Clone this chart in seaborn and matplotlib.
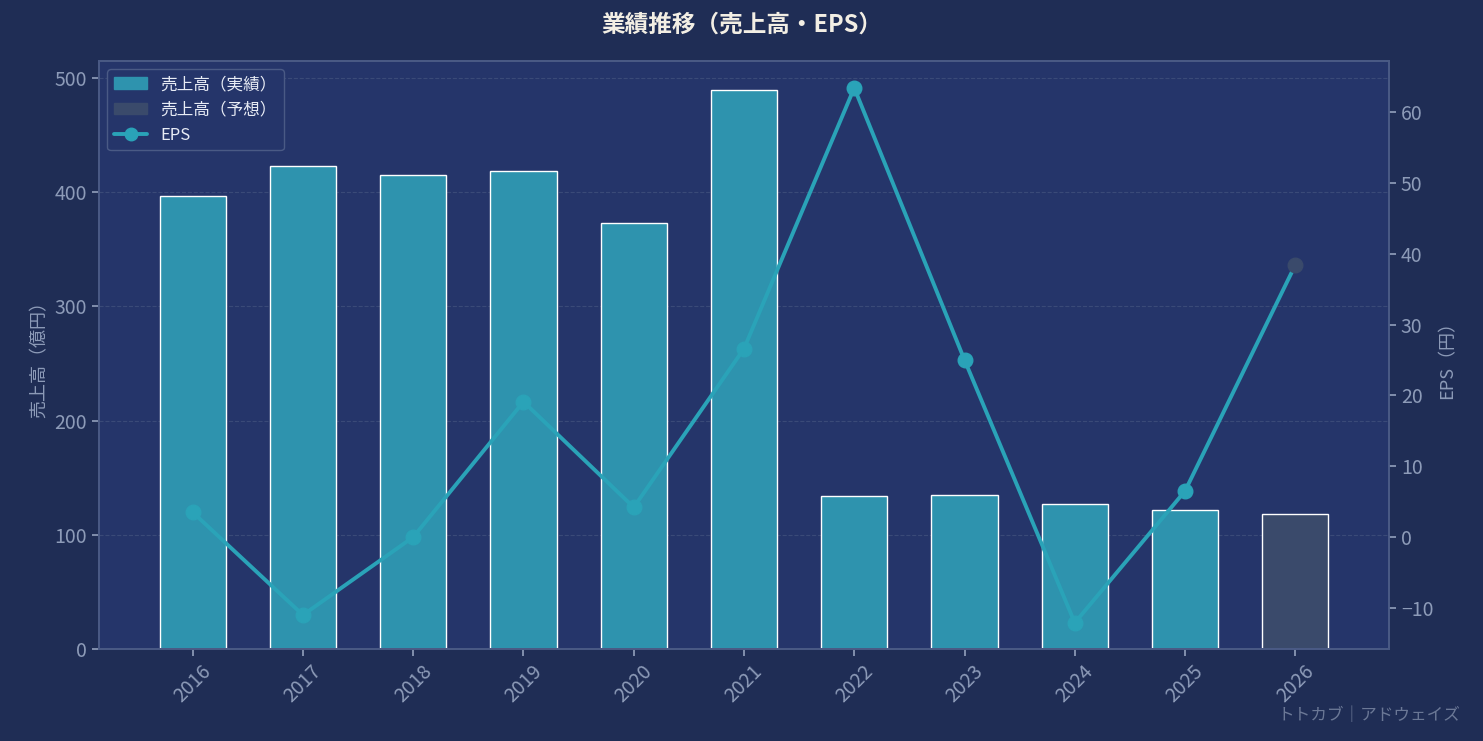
import matplotlib
matplotlib.use("Agg")
import matplotlib.pyplot as plt
import seaborn as sns
import pandas as pd
from matplotlib.patches import Patch
from matplotlib.lines import Line2D

years = ["2016","2017","2018","2019","2020","2021","2022","2023","2024","2025","2026"]
sales = [397, 423, 415, 419, 373, 490, 134, 135, 127, 122, 118]
eps = [3.5, -11.0, 0.0, 19.1, 4.2, 26.6, 63.4, 25.0, -12.1, 6.5, 38.4]
kind = ["実績"]*10 + ["予想"]

sns.set_theme(style="dark")
plt.rcParams['font.family'] = ['Noto Sans CJK JP', 'DejaVu Sans']

FIG = "#1f2d55"; AX = "#25356a"; BAR = "#2e93ae"; FC = "#3a4a6b"; LINE = "#2aa3b8"; TXT = "#8d9bb8"

fig = plt.figure(figsize=(14.83, 7.41), dpi=100, facecolor=FIG)
ax = fig.add_axes([99/1483, 1-649/741, 1290/1483, 588/741])
ax.set_facecolor(AX)
df = pd.DataFrame({"year": years, "sales": sales, "kind": kind})
sns.barplot(data=df, x="year", y="sales", hue="kind", palette={"実績": BAR, "予想": FC},
            dodge=False, width=0.6, ax=ax, legend=False, saturation=1)
ax.set_ylim(0, 515)
ax.set_xlim(-0.85, 10.85)
ax.set_xlabel("")
ax.set_ylabel("売上高（億円）", color=TXT, fontsize=13)
ax.grid(axis="y", color="#3a4a78", linestyle="--", linewidth=0.8)
ax.set_axisbelow(True)
ax.tick_params(axis="y", colors=TXT, labelsize=14, left=True, length=5, color=TXT)
ax.tick_params(axis="x", colors=TXT, labelsize=14, bottom=True, length=5, color=TXT)
plt.setp(ax.get_xticklabels(), rotation=45)
for s in ax.spines.values():
    s.set_color("#4a5a85")

ax2 = ax.twinx()
x = list(range(len(years)))
sns.lineplot(x=x[:-1] + [x[-1]], y=eps, ax=ax2, color=LINE, linewidth=2.8, legend=False)
ax2.scatter(x[:-1], eps[:-1], color=LINE, s=110, zorder=5)
ax2.scatter([x[-1]], [eps[-1]], color=FC, s=110, zorder=5)
ax2.set_ylim(-15.8, 67.2)
ax2.set_yticks([-10, 0, 10, 20, 30, 40, 50, 60])
ax2.set_ylabel("EPS（円）", color=TXT, fontsize=13)
ax2.tick_params(axis="y", colors=TXT, labelsize=14, right=True, length=5, color=TXT)
for s in ax2.spines.values():
    s.set_color("#4a5a85")

handles = [Patch(color=BAR, label="売上高（実績）"), Patch(color=FC, label="売上高（予想）"),
           Line2D([0], [0], color=LINE, marker="o", lw=2.8, ms=9, label="EPS")]
leg = ax.legend(handles=handles, loc="upper left", fontsize=12, facecolor=AX,
                edgecolor="#4a5a85", labelcolor="#e8ecf5", framealpha=1)
fig.text(0.5, 1-25/741, "業績推移（売上高・EPS）", ha="center", va="center",
         color="#f2eee4", fontsize=17, fontweight="bold")
fig.text(1460/1483, 1-715/741, "トトカブ｜アドウェイズ", ha="right", va="center",
         color="#6b7896", fontsize=12)
fig.savefig("out.png", dpi=100, facecolor=FIG)
